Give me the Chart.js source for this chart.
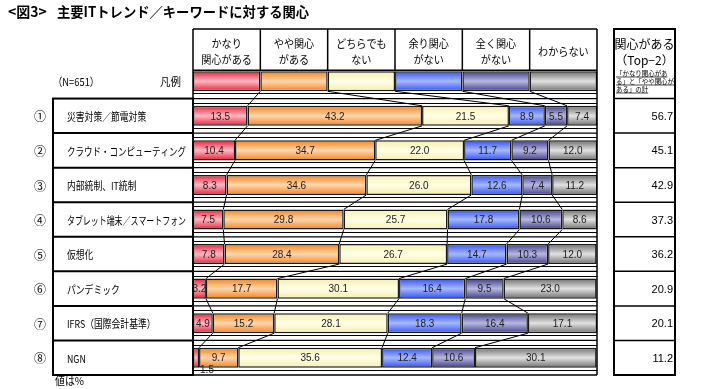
<!DOCTYPE html>
<html><head><meta charset="utf-8">
<script src="https://cdn.jsdelivr.net/npm/chart.js@4/dist/chart.umd.min.js"></script>
<style>html,body{margin:0;padding:0;background:#fff;}canvas{display:block;}</style>
</head><body>
<canvas id="c" width="711" height="389"></canvas>
<script>
// ---- data ----
const categories = ['凡例','災害対策／節電対策','クラウド・コンピューティング','内部統制、IT統制','タブレット端末／スマートフォン','仮想化','パンデミック','IFRS（国際会計基準）','NGN'];
const rowNumbers = ['①','②','③','④','⑤','⑥','⑦','⑧'];
const seriesNames = ['かなり関心がある','やや関心がある','どちらでもない','余り関心がない','全く関心がない','わからない'];
const headerLabels = [['かなり','関心がある'],['やや関心','がある'],['どちらでも','ない'],['余り関心','がない'],['全く関心','がない'],['わからない']];
// first value of each series = legend sample segment (equal widths)
const veryInterested     = [16.67, 13.5, 10.4, 8.3, 7.5, 7.8, 3.2, 4.9, 1.5];
const somewhatInterested = [16.67, 43.2, 34.7, 34.6, 29.8, 28.4, 17.7, 15.2, 9.7];
const neither            = [16.67, 21.5, 22.0, 26.0, 25.7, 26.7, 30.1, 28.1, 35.6];
const notVery            = [16.67, 8.9, 11.7, 12.6, 17.8, 14.7, 16.4, 18.3, 12.4];
const notAtAll           = [16.67, 5.5, 9.2, 7.4, 10.6, 10.3, 9.5, 16.4, 10.6];
const dontKnow           = [16.65, 7.4, 12.0, 11.2, 8.6, 12.0, 23.0, 17.1, 30.1];
const top2Values = [56.7, 45.1, 42.9, 37.3, 36.2, 20.9, 20.1, 11.2];

const seriesValues = [veryInterested, somewhatInterested, neither, notVery, notAtAll, dontKnow];
const gradColors = [
  ['#e4203a','#ffb8c2'],
  ['#f0841e','#ffd6ae'],
  ['#f6eeb0','#ffffe6'],
  ['#3452f0','#a6b8ff'],
  ['#3e3e86','#b8b8e2'],
  ['#6e6e6e','#e2e2e2']
];
const JP = '"Noto Sans CJK JP", sans-serif';
const NUM = '"Liberation Sans", Arial, sans-serif';

function makeBg(idx){
  return function(ctx){
    const chart = ctx.chart;
    const ys = chart.scales && chart.scales.y;
    if (!ys || ctx.dataIndex === undefined || !chart.chartArea) return gradColors[idx][1];
    const c = ys.getPixelForValue(ctx.dataIndex);
    const g = chart.ctx.createLinearGradient(0, c - 10, 0, c + 10);
    g.addColorStop(0, gradColors[idx][0]);
    g.addColorStop(0.5, gradColors[idx][1]);
    g.addColorStop(1, gradColors[idx][0]);
    return g;
  };
}

function geom(chart){
  const ys = chart.scales.y;
  const band = ys.getPixelForValue(1) - ys.getPixelForValue(0);
  const meta = chart.getDatasetMeta(0);
  const rows = [];
  for (let i = 0; i < categories.length; i++){
    const el = meta.data[i];
    const c = ys.getPixelForValue(i);
    const h = el ? el.height : 20;
    rows.push({c: c, top: c - h/2, bot: c + h/2, bound: c + band/2});
  }
  return rows;
}

function squeezeText(ctx, t, x, y, sx, maxW){
  ctx.save();
  ctx.translate(x, y);
  ctx.scale(sx, 1);
  if (maxW) ctx.fillText(t, 0, 0, maxW / sx); else ctx.fillText(t, 0, 0);
  ctx.restore();
}

const backgroundPlugin = {
  id: 'bgLines',
  beforeDatasetsDraw(chart){
    const ctx = chart.ctx, a = chart.chartArea;
    const rows = geom(chart);
    ctx.save();
    ctx.strokeStyle = '#000';
    for (let i = 0; i < rows.length; i++){
      const r = rows[i];
      const ys = [r.bot + 2];
      if (i < rows.length - 1) ys.push(rows[i+1].top - 3);
      ctx.lineWidth = 1;
      ys.forEach(y => { ctx.beginPath(); ctx.moveTo(a.left, Math.round(y)+0.5); ctx.lineTo(a.right, Math.round(y)+0.5); ctx.stroke(); });
      ctx.lineWidth = 1.3;
      ctx.beginPath(); ctx.moveTo(a.left, r.bound); ctx.lineTo(a.right, r.bound); ctx.stroke();
    }
    ctx.restore();
  },
  afterDatasetsDraw(chart){
    const ctx = chart.ctx, a = chart.chartArea, xs = chart.scales.x;
    const rows = geom(chart);
    ctx.save();
    // connectors
    ctx.strokeStyle = '#000'; ctx.lineWidth = 1;
    for (let i = 0; i < rows.length - 1; i++){
      let c1 = 0, c2 = 0;
      for (let k = 0; k < 5; k++){
        c1 += seriesValues[k][i]; c2 += seriesValues[k][i+1];
        ctx.beginPath();
        ctx.moveTo(xs.getPixelForValue(c1), rows[i].bot);
        ctx.lineTo(xs.getPixelForValue(c2), rows[i+1].top);
        ctx.stroke();
      }
    }
    // value labels
    ctx.fillStyle = '#222';
    ctx.font = '10px ' + NUM;
    ctx.textBaseline = 'middle';
    for (let d = 0; d < seriesValues.length; d++){
      const meta = chart.getDatasetMeta(d);
      for (let i = 1; i < categories.length; i++){
        const el = meta.data[i];
        const v = seriesValues[d][i];
        const w = Math.abs(el.x - el.base);
        const txt = v.toFixed(1);
        if (w < 10){
          ctx.textAlign = 'left';
          ctx.fillText(txt, el.x + 1, rows[i].bot + 3);
        } else {
          ctx.textAlign = 'center';
          ctx.fillText(txt, (el.x + el.base)/2, rows[i].c + 1);
        }
      }
    }
    // frame of plot region and header
    const headTop = 29;
    const legTop = rows[0].top;
    ctx.lineWidth = 1.5;
    ctx.beginPath();
    ctx.moveTo(a.left, headTop); ctx.lineTo(a.right, headTop);
    ctx.moveTo(a.left, headTop); ctx.lineTo(a.left, rows[8].bound);
    ctx.moveTo(a.right, headTop); ctx.lineTo(a.right, rows[8].bound);
    ctx.stroke();
    for (let k = 1; k < 6; k++){
      const x = xs.getPixelForValue(k*100/6);
      ctx.beginPath(); ctx.moveTo(x, headTop); ctx.lineTo(x, legTop); ctx.stroke();
    }
    ctx.beginPath(); ctx.moveTo(a.left, legTop - 1); ctx.lineTo(a.right, legTop - 1); ctx.stroke();
    // header texts
    ctx.fillStyle = '#000';
    ctx.font = '11px ' + JP;
    ctx.textAlign = 'center';
    for (let k = 0; k < 6; k++){
      const x = xs.getPixelForValue((k + 0.5)*100/6);
      const lines = headerLabels[k];
      if (lines.length === 1) squeezeText(ctx, lines[0], x, 52, 0.92);
      else { squeezeText(ctx, lines[0], x, 44, 0.92); squeezeText(ctx, lines[1], x, 60, 0.92); }
    }
    // left table
    const lx = 53;
    ctx.lineWidth = 2;
    ctx.strokeRect(lx, rows[0].bound, a.left - lx, rows[8].bound - rows[0].bound);
    for (let i = 1; i < 8; i++){
      ctx.beginPath(); ctx.moveTo(lx, rows[i].bound); ctx.lineTo(a.left, rows[i].bound); ctx.stroke();
    }
    ctx.font = '12px ' + JP; ctx.textAlign = 'center';
    for (let i = 1; i < categories.length; i++){
      ctx.fillText(rowNumbers[i-1], 40, rows[i].c + 1);
    }
    ctx.font = '11px ' + JP; ctx.textAlign = 'left';
    for (let i = 1; i < categories.length; i++){
      squeezeText(ctx, categories[i], 67, rows[i].c + 1, 0.8, 119);
    }
    squeezeText(ctx, '（N=651）', 53, rows[0].c + 1, 0.85);
    squeezeText(ctx, categories[0], 160, rows[0].c + 1, 0.95);
    squeezeText(ctx, '値は%', 55, 381, 0.9);
    // right table
    const rx0 = 614, rx1 = 675;
    ctx.lineWidth = 2;
    ctx.strokeRect(rx0, headTop, rx1 - rx0, rows[8].bound - headTop);
    for (let i = 0; i < 8; i++){
      ctx.lineWidth = 1.5;
      ctx.beginPath(); ctx.moveTo(rx0, rows[i].bound); ctx.lineTo(rx1, rows[i].bound); ctx.stroke();
    }
    ctx.textAlign = 'center';
    ctx.font = '12px ' + JP;
    ctx.fillText('関心がある', (rx0+rx1)/2, 44);
    ctx.fillText('（Top−2）', (rx0+rx1)/2, 60);
    ctx.font = '7px ' + JP; ctx.textAlign = 'left';
    const notes = ['「かなり関心があ','る」と「やや関心が','ある」の計'];
    notes.forEach((t, j) => {
      const y = 73 + j*8;
      squeezeText(ctx, t, rx0 + 2, y, 0.92, 58);
      const w = Math.min(ctx.measureText(t).width * 0.92, 58);
      ctx.lineWidth = 0.7;
      ctx.beginPath(); ctx.moveTo(rx0 + 2, y + 4); ctx.lineTo(rx0 + 2 + w, y + 4); ctx.stroke();
    });
    ctx.font = '11px ' + NUM; ctx.textAlign = 'right';
    for (let i = 0; i < 8; i++){
      ctx.fillText(top2Values[i].toFixed(1), rx1 - 2, rows[i+1].c + 1);
    }
    // title
    ctx.font = 'bold 14px ' + JP; ctx.textAlign = 'left';
    squeezeText(ctx, '<図3>', 8, 12, 1.0);
    squeezeText(ctx, '主要ITトレンド／キーワードに対する関心', 57, 12, 0.95);
    ctx.restore();
  }
};

new Chart(document.getElementById('c'), {
  type: 'bar',
  data: {
    labels: categories,
    datasets: seriesValues.map((vals, idx) => ({
      label: seriesNames[idx],
      data: vals,
      backgroundColor: makeBg(idx),
      borderColor: '#1a1a1a',
      borderWidth: 1.5,
      borderSkipped: false,
      barPercentage: 0.58,
      categoryPercentage: 1.0
    }))
  },
  options: {
    indexAxis: 'y',
    responsive: false,
    animation: false,
    layout: { padding: { left: 193, right: 114, top: 64, bottom: 14 } },
    plugins: { legend: { display: false }, tooltip: { enabled: false } },
    scales: {
      x: { stacked: true, min: 0, max: 100, display: false },
      y: { stacked: true, display: false }
    }
  },
  plugins: [backgroundPlugin]
});
</script>
</body></html>
